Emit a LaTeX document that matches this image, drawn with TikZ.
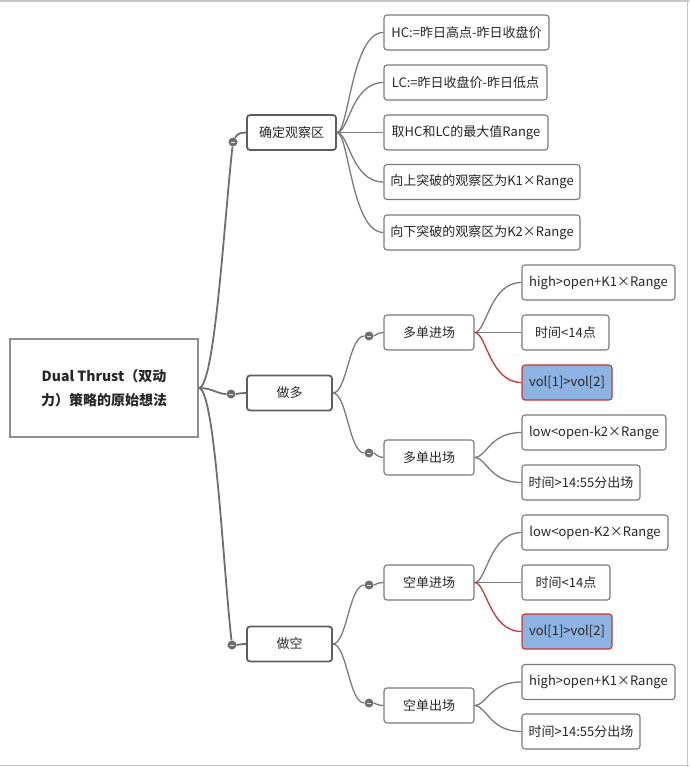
\documentclass[tikz,border=0pt]{standalone}
\usepackage{fontspec}
\setmainfont{Noto Sans CJK SC}
\definecolor{txt}{HTML}{262626}
\definecolor{edge}{HTML}{7A7A7A}
\definecolor{lvl}{HTML}{5E5E5E}
\definecolor{redl}{HTML}{C8372D}
\definecolor{bluef}{HTML}{8DB3E2}
\begin{document}
\begin{tikzpicture}[x=1pt,y=-1pt,
  every node/.style={font=\fontsize{13}{15}\selectfont, text=txt, inner sep=0pt},
  rootbox/.style={draw=edge!85, line width=1.6pt, minimum width=188, minimum height=98, align=center, font=\bfseries\fontsize{14}{24}\selectfont},
  mainbox/.style={draw=lvl, line width=1.8pt, rounded corners=3pt, minimum height=35},
  subbox/.style={draw=edge, line width=1.1pt, rounded corners=3pt, minimum height=35},
  leafbox/.style={draw=edge, line width=1.1pt, rounded corners=3pt, minimum height=35},
  hlbox/.style={draw=redl, fill=bluef, line width=1.1pt, rounded corners=3pt, minimum height=35},
  dotnode/.style={circle, fill=edge!90!black, minimum size=9pt, inner sep=0pt},
  conn/.style={draw=edge, line width=1.3pt},
  redconn/.style={draw=redl, line width=1.3pt},
  trunk/.style={draw=lvl!90, line width=1.8pt}
]
\useasboundingbox (0,0) rectangle (689,767);
% frame
\draw[gray!45, line width=1.5pt] (0,1) -- (689,1);
\draw[gray!45, line width=1.5pt] (0,765.5) -- (689,765.5);
\draw[gray!45, line width=1pt] (687.5,0) -- (687.5,767);

% root
\node[rootbox] (root) at (104,388) {Dual Thrust（双动\\力）策略的原始想法};

% level 1
\node[mainbox, minimum width=89] (gc) at (291.5,132.5) {确定观察区};
\node[mainbox, minimum width=85] (duo) at (289.5,393) {做多};
\node[mainbox, minimum width=85] (kong) at (289.5,644) {做空};

% dots level 1
\node[dotnode] (gcd) at (233,142) {};
\node[dotnode] (duod) at (231,394) {};
\node[dotnode] (kongd) at (232,645) {};

% level 2 under 确定观察区
\node[leafbox, minimum width=165] (hc) at (466.5,32.5) {HC:=昨日高点-昨日收盘价};
\node[leafbox, minimum width=163] (lc) at (465.5,82.5) {LC:=昨日收盘价-昨日低点};
\node[leafbox, minimum width=164] (qu) at (466,132.5) {取HC和LC的最大值Range};
\node[leafbox, minimum width=196] (up) at (482,182) {向上突破的观察区为K1×Range};
\node[leafbox, minimum width=196] (down) at (482,232.5) {向下突破的观察区为K2×Range};

% level 2 under 做多 / 做空
\node[subbox, minimum width=90] (dj) at (429,332.5) {多单进场};
\node[subbox, minimum width=90] (dc) at (429,457.5) {多单出场};
\node[subbox, minimum width=90] (kj) at (429,582.5) {空单进场};
\node[subbox, minimum width=90] (kc) at (429,705.5) {空单出场};

\node[dotnode] (djd) at (369,336) {};
\node[dotnode] (dcd) at (369,453) {};
\node[dotnode] (kjd) at (369,585) {};
\node[dotnode] (kcd) at (369,703) {};

% leaves
\node[leafbox, minimum width=153] (a1) at (598.5,282.5) {high>open+K1×Range};
\node[leafbox, minimum width=87] (a2) at (565.5,332.5) {时间<14点};
\node[hlbox, minimum width=90] (a3) at (567,382.5) {vol[1]>vol[2]};
\node[leafbox, minimum width=144] (b1) at (594,432.5) {low<open-k2×Range};
\node[leafbox, minimum width=118] (b2) at (581,482.5) {时间>14:55分出场};

\node[leafbox, minimum width=146] (c1) at (595,532.5) {low<open-K2×Range};
\node[leafbox, minimum width=88] (c2) at (566,582.5) {时间<14点};
\node[hlbox, minimum width=90] (c3) at (567,631.5) {vol[1]>vol[2]};
\node[leafbox, minimum width=153] (d1) at (598.5,682) {high>open+K1×Range};
\node[leafbox, minimum width=118] (d2) at (581,731.5) {时间>14:55分出场};

% root connectors
\draw[trunk] (root.east) .. controls +(16,0) and +(-9,80) .. (gcd);
\draw[trunk] (root.east) .. controls +(14,0) and +(-14,0) .. (duod);
\draw[trunk] (root.east) .. controls +(16,0) and +(-9,-80) .. (kongd);
\draw[trunk] (gcd) .. controls +(4,-8) and +(-6,0) .. (gc.west);
\draw[trunk] (duod) .. controls +(6,0) and +(-6,0) .. (duo.west);
\draw[trunk] (kongd) .. controls +(6,0) and +(-6,0) .. (kong.west);

% 确定观察区 children
\foreach \c in {hc,lc,qu,up,down}
  \draw[conn] (gc.east) .. controls +(12,0) and +(-32,0) .. (\c.west);

% 做多 / 做空 to dots
\draw[conn] (duo.east) .. controls +(14,0) and +(-20,0) .. (djd);
\draw[conn] (duo.east) .. controls +(14,0) and +(-20,0) .. (dcd);
\draw[conn] (kong.east) .. controls +(14,0) and +(-20,0) .. (kjd);
\draw[conn] (kong.east) .. controls +(14,0) and +(-20,0) .. (kcd);
\foreach \d/\b in {djd/dj,dcd/dc,kjd/kj,kcd/kc}
  \draw[conn] (\d) .. controls +(6,0) and +(-6,0) .. (\b.west);

% leaf connectors
\draw[conn] (dj.east) .. controls +(12,0) and +(-32,0) .. (a1.west);
\draw[conn] (dj.east) -- (a2.west);
\draw[redconn] (dj.east) .. controls +(12,0) and +(-32,0) .. (a3.west);
\draw[conn] (dc.east) .. controls +(12,0) and +(-32,0) .. (b1.west);
\draw[conn] (dc.east) .. controls +(12,0) and +(-32,0) .. (b2.west);

\draw[conn] (kj.east) .. controls +(12,0) and +(-32,0) .. (c1.west);
\draw[conn] (kj.east) -- (c2.west);
\draw[redconn] (kj.east) .. controls +(12,0) and +(-32,0) .. (c3.west);
\draw[conn] (kc.east) .. controls +(12,0) and +(-32,0) .. (d1.west);
\draw[conn] (kc.east) .. controls +(12,0) and +(-32,0) .. (d2.west);

% minus marks on dots
\foreach \d in {gcd,duod,kongd,djd,dcd,kjd,kcd}
  \draw[white!75!gray, line width=0.8pt] ([xshift=-2pt]\d.center) -- ([xshift=2pt]\d.center);
\end{tikzpicture}
\end{document}
